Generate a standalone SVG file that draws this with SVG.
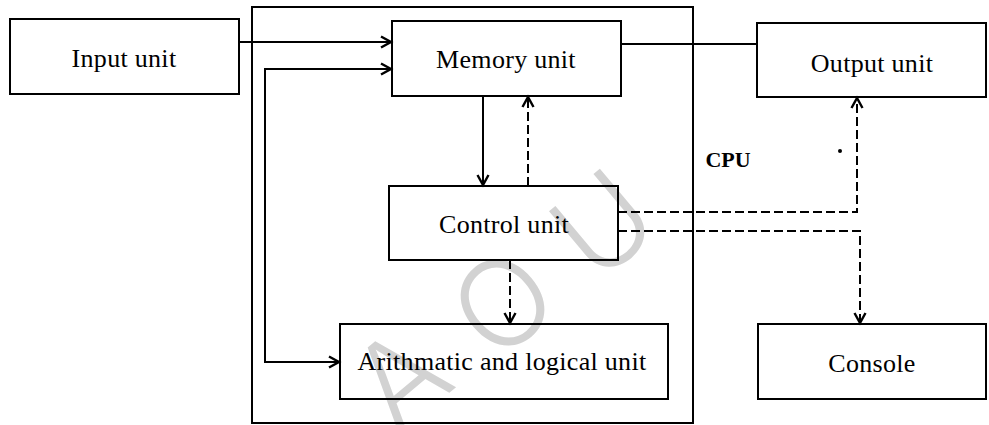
<svg xmlns="http://www.w3.org/2000/svg" width="989" height="425" viewBox="0 0 989 425">
  <style>
    .box { fill: none; stroke: #000; stroke-width: 2; }
    .lbl { font-family: "Liberation Serif", "Times New Roman", serif; font-size: 26px; letter-spacing: 0.3px; fill: #000; text-anchor: middle; }
    .cpu { font-family: "Liberation Serif", "Times New Roman", serif; font-size: 22px; font-weight: bold; fill: #000; text-anchor: middle; }
    .wire { fill: none; stroke: #000; stroke-width: 2; }
    .dash { stroke-dasharray: 9 4; }
    .wm { font-family: Inter, "Noto Sans", "Liberation Sans", sans-serif; font-size: 120px; font-weight: 300; fill: #d2d2d2; text-anchor: middle; }
  </style>
  <defs>
    <marker id="arr" markerUnits="userSpaceOnUse" markerWidth="14" markerHeight="14" refX="11" refY="6" orient="auto-start-reverse" viewBox="0 0 14 12">
      <path d="M1,0.5 L11,6 L1,11.5" fill="none" stroke="#000" stroke-width="2.4"/>
    </marker>
  </defs>
  <rect width="989" height="425" fill="#fff"/>

  <g id="watermark">
    <text class="wm" x="0" y="43" transform="translate(400,378) rotate(-40)">A</text>
    <text class="wm" x="0" y="43" transform="translate(503,303) rotate(-40)">O</text>
    <text class="wm" x="0" y="43" transform="translate(603,224) rotate(-40)">U</text>
  </g>

  <g id="cpu">
    <rect class="box" x="252" y="7" width="441" height="416"/>
    <text class="cpu" x="728" y="167">CPU</text>
  </g>

  <g id="input-unit">
    <rect class="box" x="10" y="19" width="229" height="75"/>
    <text class="lbl" x="124" y="67">Input unit</text>
  </g>

  <g id="memory-unit">
    <rect class="box" x="392" y="21" width="229" height="75"/>
    <text class="lbl" x="506" y="68">Memory unit</text>
  </g>

  <g id="output-unit">
    <rect class="box" x="757" y="23" width="229" height="74"/>
    <text class="lbl" x="872" y="72">Output unit</text>
  </g>

  <g id="control-unit">
    <rect class="box" x="389" y="186" width="229" height="74"/>
    <text class="lbl" x="504" y="233">Control unit</text>
  </g>

  <g id="alu">
    <rect class="box" x="340" y="324" width="328" height="75"/>
    <text class="lbl" x="502" y="370">Arithmatic and logical unit</text>
  </g>

  <g id="console">
    <rect class="box" x="758" y="324" width="228" height="75"/>
    <text class="lbl" x="872" y="372">Console</text>
  </g>

  <g id="connectors">
    <path class="wire" d="M239,42 H391" marker-end="url(#arr)"/>
    <path class="wire" d="M391,69 H265 V362 H339" marker-start="url(#arr)" marker-end="url(#arr)"/>
    <path class="wire" d="M621,44 H757"/>
    <path class="wire" d="M483,96 V185" marker-end="url(#arr)"/>
    <path class="wire dash" d="M528,186 V97" marker-end="url(#arr)"/>
    <path class="wire dash" d="M510,260 V323" marker-end="url(#arr)"/>
    <path class="wire dash" d="M618,212 H857 V98" marker-end="url(#arr)"/>
    <path class="wire dash" d="M618,231 H860 V323" marker-end="url(#arr)"/>
  </g>

  <circle cx="840" cy="151" r="2" fill="#000"/>
</svg>
